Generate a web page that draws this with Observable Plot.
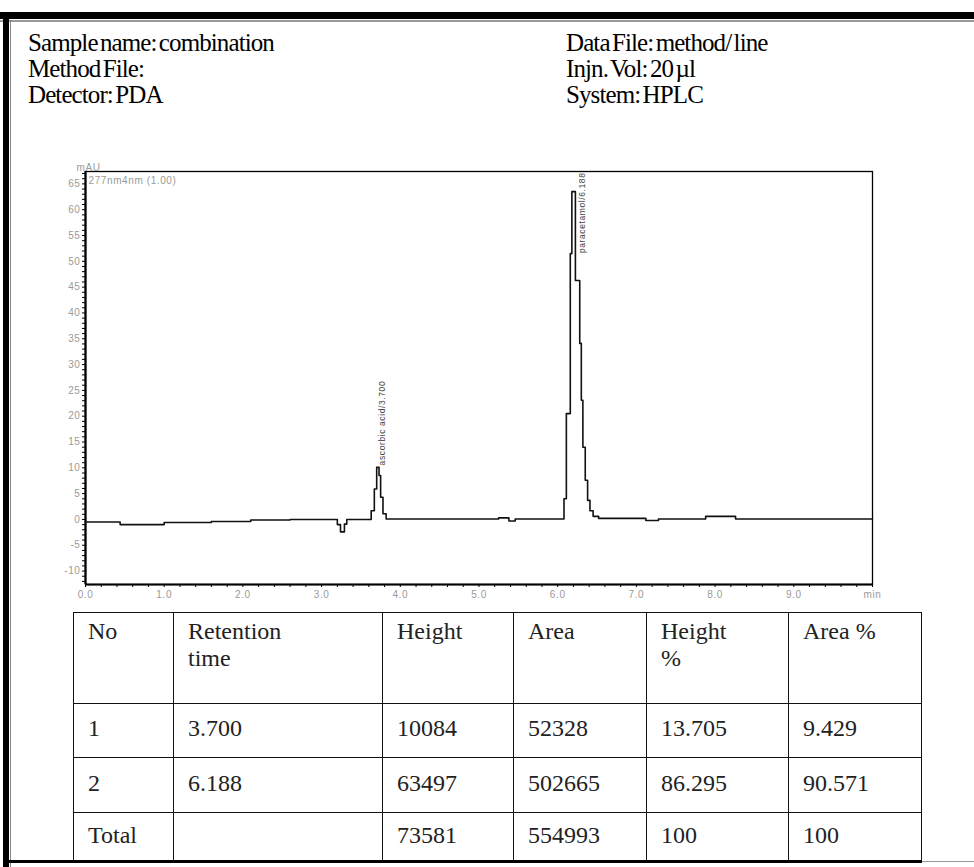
<!DOCTYPE html>
<html><head><meta charset="utf-8">
<script src="https://cdn.jsdelivr.net/npm/d3@7"></script>
<script src="https://cdn.jsdelivr.net/npm/@observablehq/plot@0.6"></script>
<style>
html,body{margin:0;padding:0;background:#fff;}
#page{position:relative;width:974px;height:867px;overflow:hidden;background:#fff;}
.bar{position:absolute;}
#header{position:absolute;left:0;top:0;}
#chart{position:absolute;left:0;top:150px;}
#chart svg [aria-label^="x-axis"] text, #chart svg [aria-label^="y-axis"] text{fill:#9a9a9a;}
#tbl{position:absolute;left:73px;top:612px;border-collapse:collapse;font-family:"Liberation Serif",serif;font-size:24px;color:#222;table-layout:fixed;}
#tbl td{border:1.5px solid #111;vertical-align:middle;padding:0 0 4px 14px;line-height:1.12;white-space:pre;}
#tbl tr.head td{vertical-align:top;padding:5px 0 0 14px;}
</style></head>
<body><div id="page">
<div class="bar" style="left:0;top:12px;width:974px;height:7px;background:#000"></div>
<div class="bar" style="left:0;top:20px;width:974px;height:2px;background:#999"></div>
<div class="bar" style="left:3px;top:12px;width:6px;height:855px;background:#000"></div>
<div class="bar" style="left:10px;top:20px;width:1px;height:847px;background:#888"></div>
<div id="header"></div>
<div id="chart"></div>
<table id="tbl"></table>
<div class="bar" style="left:3px;top:860px;width:919px;height:3px;background:#000"></div>
<div class="bar" style="left:922px;top:861px;width:52px;height:1px;background:#999"></div>
</div>
<script>
// ---- header text ----
const leftHeader = ["Sample name: combination", "Method File:", "Detector: PDA"];
const rightHeader = ["Data File: method/ line", "Injn. Vol: 20 \u00b5l", "System: HPLC"];

// ---- chromatogram (minutes, mAU) ----
const times = [0, 0.44, 1.0, 1.6, 2.1, 2.6, 3.20, 3.24, 3.29, 3.32, 3.63, 3.67, 3.70, 3.73, 3.75, 3.78, 3.82,
  5.25, 5.38, 5.46, 6.08, 6.11, 6.16, 6.18, 6.225, 6.28, 6.30, 6.32, 6.35, 6.38, 6.41, 6.45, 6.52,
  7.12, 7.28, 7.88, 8.26, 9.10, 10.0];
const signal = [-0.5, -1.0, -0.6, -0.4, -0.1, 0.0, -1.0, -2.4, -0.9, 0.0, 1.7, 5.9, 10.08, 8.5, 4.3, 1.1, 0.1,
  0.3, -0.3, 0.1, 4.0, 20.5, 51.5, 63.5, 46.3, 34.1, 23.1, 14.0, 7.6, 3.7, 1.7, 0.6, 0.2,
  -0.2, 0.1, 0.6, 0.1, 0.1, 0.1];

// ---- peaks ----
const peakNames = ["ascorbic acid/3.700", "paracetamol/6.188"];
const peakTimes = [3.700, 6.188];
const peakHeightsMAU = [10.084, 63.497];

// ---- axes ----
const xDomain = [0, 10];
const yDomain = [-12.6, 67.4];
const xMajorTicks = [0, 1, 2, 3, 4, 5, 6, 7, 8, 9, 10];
const xTickLabels = ["0.0", "1.0", "2.0", "3.0", "4.0", "5.0", "6.0", "7.0", "8.0", "9.0", "min"];
const yMajorTicks = [-10, -5, 0, 5, 10, 15, 20, 25, 30, 35, 40, 45, 50, 55, 60, 65];
const yTickLabels = ["-10", "-5", "0", "5", "10", "15", "20", "25", "30", "35", "40", "45", "50", "55", "60", "65"];
const yAxisLabel = "mAU";
const channelLabel = "277nm4nm (1.00)";

// ---- table ----
const tableHeader = ["No", "Retention\ntime", "Height", "Area", "Height\n%", "Area %"];
const peakNo = ["1", "2", "Total"];
const retentionTime = ["3.700", "6.188", ""];
const peakHeight = ["10084", "63497", "73581"];
const peakArea = ["52328", "502665", "554993"];
const heightPct = ["13.705", "86.295", "100"];
const areaPct = ["9.429", "90.571", "100"];

// header
(function(){
  const svg = d3.create("svg").attr("width", 974).attr("height", 130)
    .style("font-family", '"Liberation Serif", serif').style("font-size", "25px");
  const base = [51, 77, 103];
  const put = (x, t, y) => svg.append("text").attr("x", x).attr("y", y)
      .attr("letter-spacing", "-0.9").attr("word-spacing", "-3").text(t);
  leftHeader.forEach((t, i) => put(28, t, base[i]));
  rightHeader.forEach((t, i) => put(566, t, base[i]));
  document.getElementById("header").append(svg.node());
})();

// chart
const trace = times.map((t, i) => ({t, v: signal[i]}));
const peaks = peakTimes.map((t, i) => ({t, h: peakHeightsMAU[i], name: peakNames[i]}));
const xMinor = d3.range(0, 51).map(i => i / 5);
const yMinor = d3.range(-12, 68);

const chart = Plot.plot({
  width: 974,
  height: 460,
  marginLeft: 85,
  marginRight: 102,
  marginTop: 21,
  marginBottom: 26,
  style: {background: "transparent", fontFamily: '"Liberation Sans", Arial, sans-serif', fontSize: "10px", color: "#000", letterSpacing: "0.6px"},
  x: {domain: xDomain, ticks: xMinor, tickSize: 3, tickPadding: 3,
      tickFormat: d => { const k = xMajorTicks.indexOf(Math.round(d * 5) / 5); return (Math.abs(d - Math.round(d)) < 1e-6 && k >= 0) ? xTickLabels[k] : ""; },
      label: null},
  y: {domain: yDomain, ticks: yMinor, tickSize: 3, tickPadding: 2,
      tickFormat: d => { const k = yMajorTicks.indexOf(d); return k >= 0 ? yTickLabels[k] : ""; },
      label: null},
  marks: [
    Plot.frame({stroke: "#000", strokeWidth: 1.3}),
    Plot.ruleX([xDomain[0]], {stroke: "#000", strokeWidth: 2.2}),
    Plot.ruleY([yDomain[0]], {stroke: "#000", strokeWidth: 2.2}),
    Plot.line(trace, {x: "t", y: "v", curve: "step-after", stroke: "#111", strokeWidth: 1.6}),
    Plot.text([peaks[0]], {x: "t", y: "h", text: "name", rotate: -90, textAnchor: "start", dx: 6, dy: -2, fontSize: 8.5, fill: "#444"}),
    Plot.text([peaks[1]], {x: "t", text: "name", frameAnchor: "top", rotate: -90, textAnchor: "end", dx: 6, dy: 1, fontSize: 8.5, fill: "#444"}),
    Plot.text([yAxisLabel], {frameAnchor: "top-left", dx: -9, dy: -8, textAnchor: "start", fontSize: 10, fill: "#9a9a9a"}),
    Plot.text([channelLabel], {frameAnchor: "top-left", dx: 3, dy: 5, textAnchor: "start", fontSize: 10, fill: "#9a9a9a"})
  ]
});
document.getElementById("chart").append(chart);

// table
(function(){
  const colW = [100, 209, 131, 133, 142, 133];
  const rowH = [91, 54, 55, 50];
  const tbl = d3.select("#tbl");
  const cg = tbl.append("colgroup");
  colW.forEach(w => cg.append("col").style("width", w + "px"));
  const rows = [tableHeader].concat(peakNo.map((n, i) => [n, retentionTime[i], peakHeight[i], peakArea[i], heightPct[i], areaPct[i]]));
  rows.forEach((r, i) => {
    const tr = tbl.append("tr").style("height", rowH[i] + "px").classed("head", i === 0);
    r.forEach(c => tr.append("td").text(c));
  });
})();
</script>
</body></html>
